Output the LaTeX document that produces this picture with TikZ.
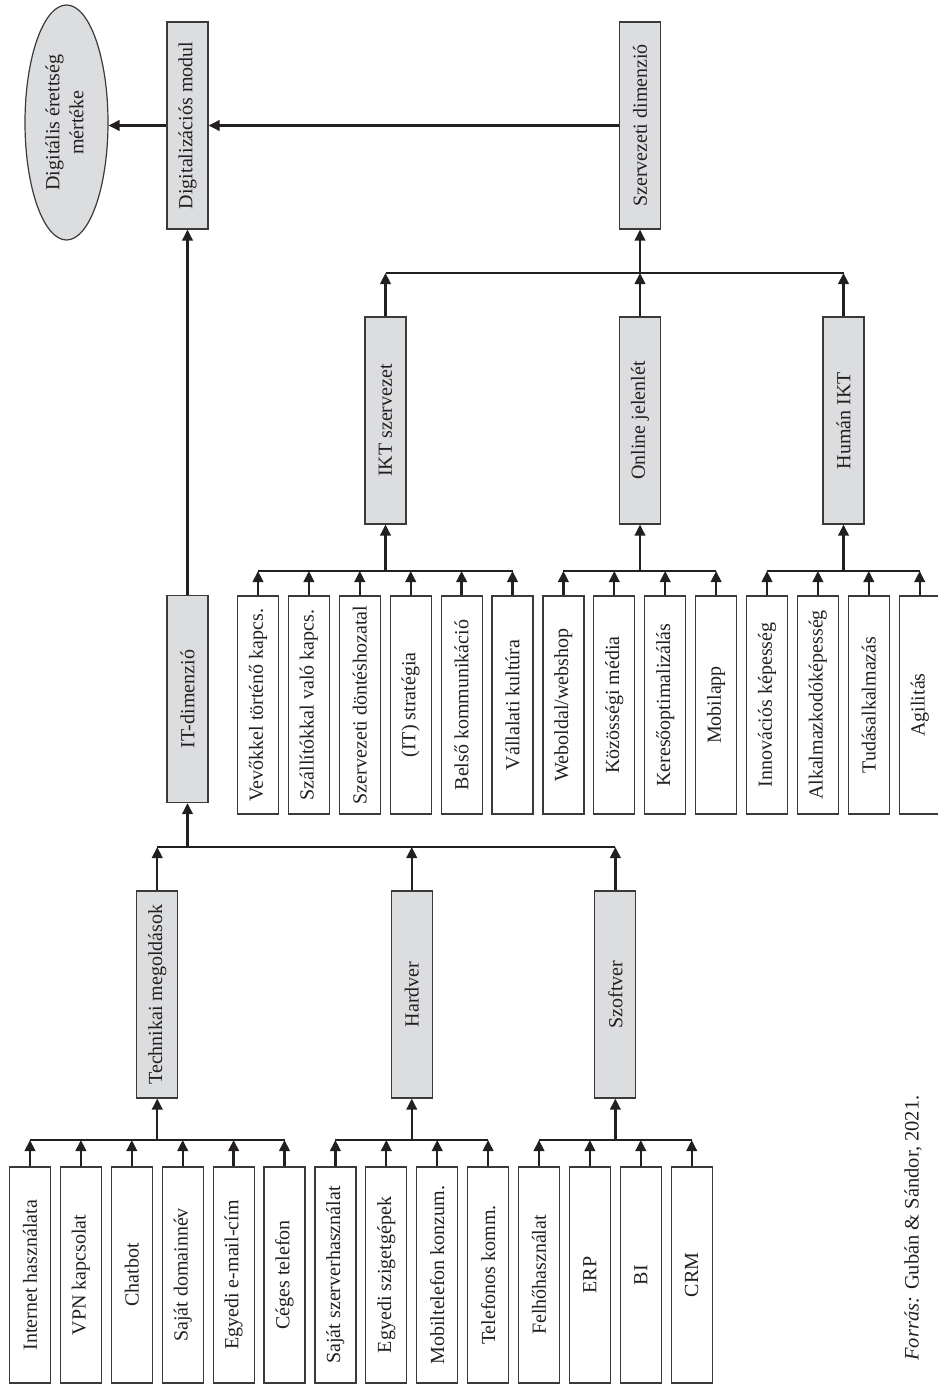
\documentclass[tikz,border=0pt]{standalone}
\usepackage{fontspec}
\setmainfont{Liberation Serif}
\usepackage{graphicx}
\usetikzlibrary{arrows.meta,shapes.geometric}
\definecolor{lc}{HTML}{231F20}
\definecolor{bl}{HTML}{3A3A3A}
\definecolor{gf}{HTML}{DCDDDF}
\newcommand\vtext[1]{\rotatebox{90}{#1}}
\newcommand\lblfont{\fontsize{20}{24}\selectfont\color{lc}}
\begin{document}
\begin{tikzpicture}[x=1pt,y=-1pt,
  box/.style={draw=bl,line width=1.2pt,minimum width=41pt,inner sep=0pt,font=\lblfont},
  greybox/.style={box,fill=gf,minimum height=207pt},
  leafbox/.style={box,fill=white,minimum height=218pt},
  leafboxb/.style={box,fill=white,minimum height=216pt},
  conn/.style={draw=lc,line width=2.3pt},
  arr/.style={conn,-{Triangle[length=11pt,width=10.5pt]}}]
\useasboundingbox (0,0) rectangle (937,1386);
% top level
\node[ellipse,draw=bl,line width=1.2pt,fill=gf,minimum width=83pt,minimum height=235pt,inner sep=0pt,font=\lblfont] (ell) at (66.5,122.5)
  {\vtext{\begin{tabular}{@{}c@{}}Digitális érettség\\mértéke\end{tabular}}};
\node[greybox] (dig) at (187.5,125.5) {\vtext{Digitalizációs modul}};
\node[greybox] (szerv) at (640,125.5) {\vtext{Szervezeti dimenzió}};
\node[greybox] (it) at (187.5,699) {\vtext{IT-dimenzió}};
\draw[arr] (dig.west) -- (dig.west -| ell.east);
\draw[arr] (szerv.west) -- (dig.east);
\draw[arr] (it.north) -- (dig.south);
% organisational branch
\node[greybox] (ikt) at (385.5,420.5) {\vtext{IKT szervezet}};
\node[greybox] (onl) at (640,420.5) {\vtext{Online jelenlét}};
\node[greybox] (hum) at (843.5,420.5) {\vtext{Humán IKT}};
\coordinate (sbus) at (640,273);
\draw[conn] (ikt.north |- sbus) -- (hum.north |- sbus);
\foreach \n in {ikt,onl,hum} \draw[arr] (\n.north) -- (\n.north |- sbus);
\draw[arr] (sbus) -- (szerv.south);
% org leaves
\foreach \i/\t [count=\k from 0] in {
  o1/Vevőkkel történő kapcs.,
  o2/Szállítókkal való kapcs.,
  o3/Szervezeti döntéshozatal,
  o4/(IT) stratégia,
  o5/Belső kommunikáció,
  o6/Vállalati kultúra,
  o7/Weboldal\slash webshop,
  o8/Közösségi média,
  o9/Keresőoptimalizálás,
  o10/Mobilapp,
  o11/Innovációs képesség,
  o12/Alkalmazkodóképesség,
  o13/Tudásalkalmazás,
  o14/Agilitás}
  \node[leafbox] (\i) at ({258+50.9*\k},705) {\vtext{\t}};
\coordinate (ob1) at (ikt.south |- 0,571);
\coordinate (ob2) at (onl.south |- 0,571);
\coordinate (ob3) at (hum.south |- 0,571);
\draw[conn] (o1.north |- ob1) -- (o6.north |- ob1);
\draw[conn] (o7.north |- ob2) -- (o10.north |- ob2);
\draw[conn] (o11.north |- ob3) -- (o14.north |- ob3);
\foreach \n in {1,...,6} \draw[arr] (o\n.north) -- (o\n.north |- ob1);
\foreach \n in {7,...,10} \draw[arr] (o\n.north) -- (o\n.north |- ob2);
\foreach \n in {11,...,14} \draw[arr] (o\n.north) -- (o\n.north |- ob3);
\draw[arr] (ob1) -- (ikt.south);
\draw[arr] (ob2) -- (onl.south);
\draw[arr] (ob3) -- (hum.south);
% IT branch
\node[greybox] (tech) at (157.25,994.5) {\vtext{Technikai megoldások}};
\node[greybox] (hard) at (411.75,994.5) {\vtext{Hardver}};
\node[greybox] (soft) at (615.35,994.5) {\vtext{Szoftver}};
\coordinate (ibus) at (it.south |- 0,847);
\draw[conn] (tech.north |- ibus) -- (soft.north |- ibus);
\foreach \n in {tech,hard,soft} \draw[arr] (\n.north) -- (\n.north |- ibus);
\draw[arr] (ibus) -- (it.south);
\foreach \i/\t [count=\k from 0] in {
  t1/Internet használata,
  t2/VPN kapcsolat,
  t3/Chatbot,
  t4/Saját domainnév,
  t5/Egyedi e-mail-cím,
  t6/Céges telefon,
  t7/Saját szerverhasználat,
  t8/Egyedi szigetgépek,
  t9/Mobiltelefon konzum.,
  t10/Telefonos komm.,
  t11/Felhőhasználat,
  t12/ERP,
  t13/BI,
  t14/CRM}
  \node[leafboxb] (\i) at ({30+50.9*\k},1275) {\vtext{\t}};
\coordinate (tb1) at (tech.south |- 0,1140);
\coordinate (tb2) at (hard.south |- 0,1140);
\coordinate (tb3) at (soft.south |- 0,1140);
\draw[conn] (t1.north |- tb1) -- (t6.north |- tb1);
\draw[conn] (t7.north |- tb2) -- (t10.north |- tb2);
\draw[conn] (t11.north |- tb3) -- (t14.north |- tb3);
\foreach \n in {1,...,6} \draw[arr] (t\n.north) -- (t\n.north |- tb1);
\foreach \n in {7,...,10} \draw[arr] (t\n.north) -- (t\n.north |- tb2);
\foreach \n in {11,...,14} \draw[arr] (t\n.north) -- (t\n.north |- tb3);
\draw[arr] (tb1) -- (tech.south);
\draw[arr] (tb2) -- (hard.south);
\draw[arr] (tb3) -- (soft.south);
% source
\node[font=\fontsize{20.5}{24}\selectfont\color{lc},inner sep=0pt] (src) at (913,1228)
  {\vtext{\textit{Forrás:} Gubán \& Sándor, 2021.}};
\end{tikzpicture}
\end{document}
